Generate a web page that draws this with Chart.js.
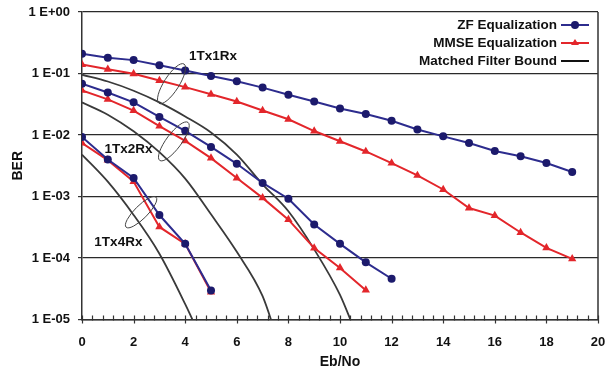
<!DOCTYPE html>
<html>
<head>
<meta charset="utf-8">
<script src="https://cdn.jsdelivr.net/npm/chart.js@4"></script>
<style>
  html, body { margin: 0; padding: 0; background: #fff; }
  #wrap { width: 613px; height: 369px; position: relative; }
</style>
</head>
<body>
<div id="wrap"><canvas id="c"></canvas></div>
<script>
// ---------------- data ----------------
const seriesNames = ['ZF Equalization', 'MMSE Equalization', 'Matched Filter Bound'];
const ebno = [0,1,2,3,4,5,6,7,8,9,10,11,12,13,14,15,16,17,18,19];

const zf1Rx   = [0.21,0.18,0.165,0.136,0.112,0.091,0.075,0.059,0.045,0.035,0.027,0.022,0.017,0.0123,0.0095,0.0074,0.0055,0.0045,0.0035,0.0025];
const mmse1Rx = [0.14,0.117,0.099,0.077,0.06,0.046,0.035,0.025,0.018,0.0116,0.0079,0.0054,0.0035,0.0022,0.0013,0.00065,0.00049,0.00026,0.000146,0.000097];
const zf2Rx   = [0.068,0.049,0.034,0.0197,0.0117,0.0064,0.0034,0.00166,0.00092,0.00035,0.00017,0.000085,0.000046];
const mmse2Rx = [0.053,0.038,0.025,0.0139,0.008,0.0042,0.002,0.00095,0.00042,0.000145,0.000069,0.00003];
const zf4Rx   = [0.0093,0.004,0.002,0.0005,0.00017,0.0000295];
const mmse4Rx = [0.0074,0.0039,0.00175,0.00032,0.00017,0.000028];

const mfb1Ebno = [0,1,2,3,4,5,6,7,8,9,10,10.5];
const mfb1Ber  = [0.0955,0.0741,0.0525,0.0339,0.02,0.011,0.0048,0.00158,0.000575,0.000138,0.0000251,0.0000079];
const mfb2Ebno = [0,1,2,3,4,5,6,7,7.5];
const mfb2Ber  = [0.0339,0.0214,0.01148,0.00525,0.00195,0.000513,0.000126,0.000024,0.000006];
const mfb3Ebno = [0,1,2,3,4,4.5];
const mfb3Ber  = [0.00479,0.00174,0.000501,0.0001175,0.0000178,0.0000063];

const yTickValues = [1e-5,1e-4,1e-3,1e-2,1e-1,1];
const yTickLabels = ['1 E-05','1 E-04','1 E-03','1 E-02','1 E-01','1 E+00'];
const xTickValues = [0,2,4,6,8,10,12,14,16,18,20];
const xTickLabels = ['0','2','4','6','8','10','12','14','16','18','20'];
const xMinorStep = 0.4;

const groupLabels = ['1Tx1Rx','1Tx2Rx','1Tx4Rx'];
// annotation anchors in data units (Eb/No, BER)
const groupLabelAt = [[5.08,0.1875],[1.80,0.00577],[1.41,0.000177]];
const groupEllipseAt = [[3.47,0.0683],[3.56,0.00787],[2.29,0.000556]];

// ---------------- styles ----------------
const FONT = '"Liberation Sans", Arial, Helvetica, sans-serif';
const ZF_LINE = '#2d2c8e', ZF_PT = '#1c1a6c';
const MM_LINE = '#e3262b';
const MFB = '#3a3a3a';
const AXIS = '#333333';
const ellipseShape = [[7.5,23.3,32.5],[7.5,23.7,36.7],[6.5,21.2,45]];

const pts = (xs, ys) => ys.map((y, i) => ({x: xs[i], y}));

function zfSet(ys) {
  return {label: seriesNames[0], data: pts(ebno, ys), borderColor: ZF_LINE, backgroundColor: ZF_PT,
    pointBackgroundColor: ZF_PT, pointBorderColor: ZF_PT, pointBorderWidth: 0, borderWidth: 2, pointRadius: 4, pointStyle: 'circle', tension: 0};
}
function mmSet(ys) {
  return {label: seriesNames[1], data: pts(ebno, ys), borderColor: MM_LINE, backgroundColor: MM_LINE,
    pointBackgroundColor: MM_LINE, pointBorderColor: MM_LINE, pointBorderWidth: 0, borderWidth: 2, pointRadius: 4.8, pointStyle: 'triangle', tension: 0};
}
function mfbSet(xs, ys) {
  return {label: seriesNames[2], data: pts(xs, ys), borderColor: MFB, borderWidth: 1.8, pointRadius: 0,
    cubicInterpolationMode: 'monotone'};
}

const datasets = [
  zfSet(zf1Rx), zfSet(zf2Rx), zfSet(zf4Rx),
  mmSet(mmse1Rx), mmSet(mmse2Rx), mmSet(mmse4Rx),
  mfbSet(mfb1Ebno, mfb1Ber), mfbSet(mfb2Ebno, mfb2Ber), mfbSet(mfb3Ebno, mfb3Ber)
];

const decor = {
  id: 'decor',
  afterDatasetsDraw(chart) {
    const ctx = chart.ctx, a = chart.chartArea;
    const xs = chart.scales.x, ys = chart.scales.y;
    ctx.save();
    // right border
    ctx.strokeStyle = AXIS; ctx.lineWidth = 1.5;
    ctx.beginPath(); ctx.moveTo(a.right, a.top); ctx.lineTo(a.right, a.bottom); ctx.stroke();
    // x minor/major ticks
    ctx.lineWidth = 1.2;
    const n = Math.round((xs.max - xs.min) / xMinorStep);
    for (let i = 0; i <= n; i++) {
      const v = xs.min + i * xMinorStep;
      const px = Math.round(xs.getPixelForValue(v)) + 0.5;
      const major = i % 5 === 0;
      ctx.beginPath();
      ctx.moveTo(px, a.bottom - 4);
      ctx.lineTo(px, a.bottom + (major ? 4 : 1));
      ctx.stroke();
    }
    // ellipses & labels
    ctx.strokeStyle = '#444'; ctx.lineWidth = 1;
    groupEllipseAt.forEach((p, i) => {
      const cx = xs.getPixelForValue(p[0]), cy = ys.getPixelForValue(p[1]);
      const s = ellipseShape[i];
      ctx.beginPath();
      ctx.ellipse(cx, cy, s[0], s[1], s[2] * Math.PI / 180, 0, Math.PI * 2);
      ctx.stroke();
    });
    ctx.fillStyle = '#111';
    ctx.font = 'bold 13.5px ' + FONT;
    ctx.textAlign = 'center'; ctx.textBaseline = 'middle';
    groupLabelAt.forEach((p, i) => {
      ctx.fillText(groupLabels[i], xs.getPixelForValue(p[0]), ys.getPixelForValue(p[1]));
    });
    // legend
    const textRight = 557, lx0 = 561, lx1 = 589, ly = [25, 43, 61];
    ctx.font = 'bold 13.5px ' + FONT;
    ctx.textAlign = 'right';
    seriesNames.forEach((name, i) => {
      ctx.fillStyle = '#111';
      ctx.fillText(name, textRight, ly[i]);
      const col = i === 0 ? ZF_LINE : i === 1 ? MM_LINE : '#111';
      ctx.strokeStyle = col; ctx.lineWidth = 2;
      ctx.beginPath(); ctx.moveTo(lx0, ly[i]); ctx.lineTo(lx1, ly[i]); ctx.stroke();
      const mx = (lx0 + lx1) / 2;
      if (i === 0) {
        ctx.fillStyle = ZF_PT; ctx.beginPath(); ctx.arc(mx, ly[i], 4, 0, Math.PI * 2); ctx.fill();
      } else if (i === 1) {
        ctx.fillStyle = MM_LINE; ctx.beginPath();
        ctx.moveTo(mx, ly[i] - 4); ctx.lineTo(mx + 4, ly[i] + 2); ctx.lineTo(mx - 4, ly[i] + 2); ctx.closePath(); ctx.fill();
      }
    });
    ctx.restore();
  }
};

new Chart(document.getElementById('c'), {
  type: 'line',
  data: { datasets },
  plugins: [decor],
  options: {
    responsive: true,
    maintainAspectRatio: false,
    animation: false,
    devicePixelRatio: 1,
    layout: { padding: { top: 12, right: 15, left: 0, bottom: 0 } },
    plugins: { legend: { display: false }, tooltip: { enabled: false } },
    scales: {
      x: {
        type: 'linear', min: 0, max: 20,
        afterBuildTicks: s => { s.ticks = xTickValues.map(v => ({value: v})); },
        afterFit: s => { s.height = 49.5; s.paddingLeft = 0; s.paddingRight = 0; },
        ticks: { autoSkip: false, maxRotation: 0, padding: 15, color: '#111',
          font: { family: FONT, size: 13, weight: 'bold' },
          callback: (v, i) => xTickLabels[i] },
        grid: { drawOnChartArea: false, drawTicks: false },
        border: { display: true, color: AXIS, width: 1.5 },
        title: { display: true, text: 'Eb/No', color: '#111', padding: { top: 0, bottom: 0 },
          font: { family: FONT, size: 14, weight: 'bold', lineHeight: 1.0 } }
      },
      y: {
        type: 'logarithmic', min: 1e-5, max: 1,
        afterBuildTicks: s => { s.ticks = yTickValues.map(v => ({value: v})); },
        afterFit: s => { s.width = 82; s.paddingTop = 0; s.paddingBottom = 0; },
        ticks: { autoSkip: false, padding: 8, color: '#111',
          font: { family: FONT, size: 13, weight: 'bold' },
          callback: (v, i) => yTickLabels[i] },
        grid: { color: '#2a2a2a', lineWidth: 1.2, tickLength: 4, drawTicks: true, tickColor: AXIS },
        border: { display: true, color: AXIS, width: 1.5 },
        title: { display: true, text: 'BER', color: '#111', padding: { top: 10, bottom: 0 },
          font: { family: FONT, size: 14, weight: 'bold', lineHeight: 1.2 } }
      }
    }
  }
});
</script>
</body>
</html>
